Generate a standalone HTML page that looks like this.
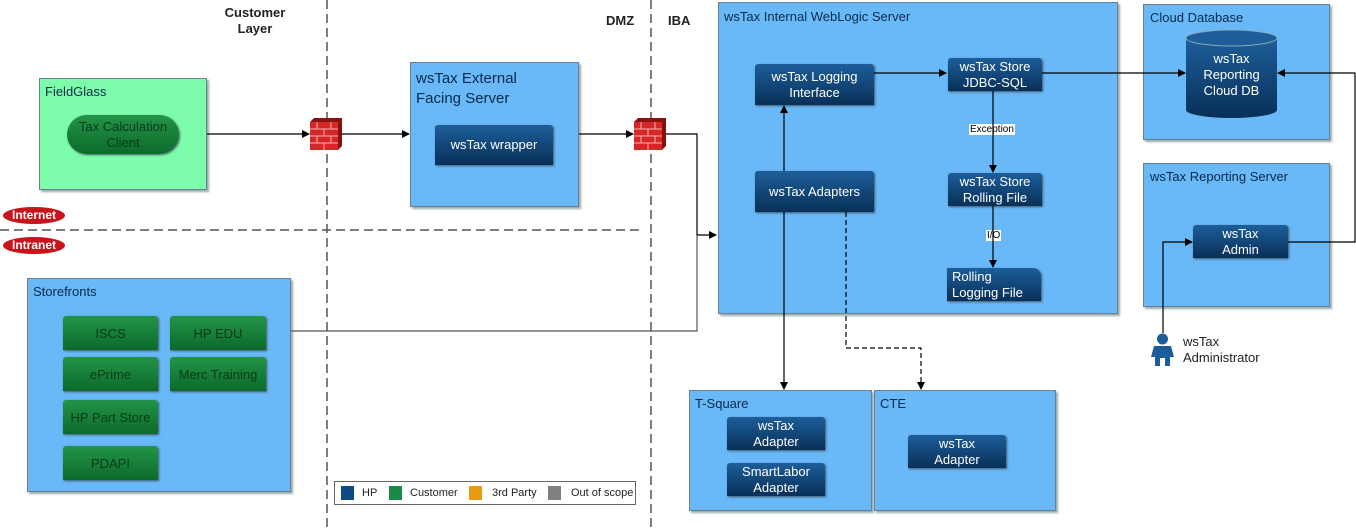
<!DOCTYPE html>
<html><head><meta charset="utf-8"><style>
body{margin:0;width:1356px;height:531px;background:#fff;position:relative;overflow:hidden;font-family:"Liberation Sans Narrow","Liberation Sans",sans-serif;}
.box{position:absolute;background:#69b8f7;border:1px solid #6a8090;box-shadow:2px 2px 2px #9aa;box-sizing:border-box;}
.t{position:absolute;font-size:13px;color:#0a2a4a;}
.n{position:absolute;background:linear-gradient(#1d5e9a,#083058);color:#fff;font-size:13px;text-align:center;display:flex;align-items:center;justify-content:center;line-height:16px;border-radius:3px 3px 0 0;box-shadow:1px 1px 2px #456;}
.g{position:absolute;background:linear-gradient(#239447,#0c6a2b);color:#0a3a1a;font-size:13px;text-align:center;display:flex;align-items:center;justify-content:center;border-radius:3px 3px 0 0;box-shadow:1px 1px 2px #456;}
svg{position:absolute;left:0;top:0}
</style></head><body>
<div class="box" style="left:39px;top:78px;width:168px;height:112px;background:#7dfdab"></div>
<div class="t" style="left:45px;top:84px">FieldGlass</div>
<div class="g" style="left:67px;top:115px;width:112px;height:39px;border-radius:20px;line-height:16px">Tax Calculation<br>Client</div>

<div class="box" style="left:410px;top:62px;width:169px;height:145px"></div>
<div class="t" style="left:416px;top:69px;font-size:15px;line-height:20px">wsTax External<br>Facing Server</div>
<div class="n" style="left:435px;top:125px;width:118px;height:40px">wsTax wrapper</div>

<div class="box" style="left:718px;top:2px;width:400px;height:312px"></div>
<div class="t" style="left:724px;top:9px">wsTax Internal WebLogic Server</div>
<div class="n" style="left:755px;top:64px;width:119px;height:41px">wsTax Logging<br>Interface</div>
<div class="n" style="left:948px;top:58px;width:94px;height:33px">wsTax Store<br>JDBC-SQL</div>
<div class="n" style="left:755px;top:171px;width:119px;height:41px">wsTax Adapters</div>
<div class="n" style="left:948px;top:173px;width:94px;height:33px">wsTax Store<br>Rolling File</div>
<div class="n" style="left:947px;top:268px;width:94px;height:33px;justify-content:flex-start;text-align:left;padding-left:5px;box-sizing:border-box;border-radius:0 8px 0 0">Rolling<br>Logging File</div>
<div class="t" style="left:969px;top:124px;font-size:10px;background:#fff;padding:0 1px;color:#000">Exception</div>
<div class="t" style="left:986px;top:230px;font-size:10px;background:#fff;padding:0 1px;color:#000">I/O</div>

<div class="box" style="left:1143px;top:4px;width:187px;height:136px"></div>
<div class="t" style="left:1150px;top:10px">Cloud Database</div>
<svg width="1356" height="531" style="pointer-events:none">
<defs><linearGradient id="cy" x1="0" x2="0" y1="0" y2="1"><stop offset="0" stop-color="#1d5e9a"/><stop offset="1" stop-color="#083058"/></linearGradient></defs>
<path d="M1186 38 v72 a45.5 8 0 0 0 91 0 v-72" fill="url(#cy)"/>
<ellipse cx="1231.5" cy="38" rx="45.5" ry="8" fill="#1d5e9a" stroke="#8ab" stroke-width="1"/>
</svg>
<div class="t" style="left:1186px;top:51px;width:91px;text-align:center;color:#fff;line-height:16px">wsTax<br>Reporting<br>Cloud DB</div>

<div class="box" style="left:1143px;top:163px;width:187px;height:144px"></div>
<div class="t" style="left:1150px;top:169px">wsTax Reporting Server</div>
<div class="n" style="left:1193px;top:225px;width:95px;height:33px">wsTax<br>Admin</div>

<div class="box" style="left:27px;top:278px;width:264px;height:214px"></div>
<div class="t" style="left:33px;top:284px">Storefronts</div>
<div class="g" style="left:63px;top:316px;width:95px;height:34px">ISCS</div>
<div class="g" style="left:170px;top:316px;width:96px;height:34px">HP EDU</div>
<div class="g" style="left:63px;top:357px;width:95px;height:34px">ePrime</div>
<div class="g" style="left:170px;top:357px;width:96px;height:34px">Merc Training</div>
<div class="g" style="left:63px;top:400px;width:95px;height:34px">HP Part Store</div>
<div class="g" style="left:63px;top:446px;width:95px;height:34px">PDAPI</div>

<div class="box" style="left:689px;top:390px;width:183px;height:121px"></div>
<div class="t" style="left:695px;top:396px">T-Square</div>
<div class="n" style="left:727px;top:417px;width:98px;height:33px">wsTax<br>Adapter</div>
<div class="n" style="left:727px;top:463px;width:98px;height:33px">SmartLabor<br>Adapter</div>
<div class="box" style="left:874px;top:390px;width:182px;height:121px"></div>
<div class="t" style="left:880px;top:396px">CTE</div>
<div class="n" style="left:908px;top:435px;width:98px;height:33px">wsTax<br>Adapter</div>

<div class="t" style="left:215px;top:5px;width:80px;text-align:center;font-weight:bold;font-size:13px;line-height:16px;color:#222">Customer<br>Layer</div>
<div class="t" style="left:606px;top:13px;font-weight:bold;color:#222">DMZ</div>
<div class="t" style="left:668px;top:13px;font-weight:bold;color:#222">IBA</div>

<div style="position:absolute;left:3px;top:207px;width:62px;height:17px;border-radius:50%;background:#c8141c;color:#fff;font-size:12px;font-weight:bold;text-align:center;line-height:17px">Internet</div>
<div style="position:absolute;left:3px;top:237px;width:62px;height:17px;border-radius:50%;background:#c8141c;color:#fff;font-size:12px;font-weight:bold;text-align:center;line-height:17px">Intranet</div>

<div style="position:absolute;left:334px;top:481px;width:302px;height:24px;border:1px solid #666;background:#fff;box-sizing:border-box;font-size:11px;color:#222">
<span style="position:absolute;left:6px;top:4px;width:13px;height:14px;background:#0d4a86"></span><span style="position:absolute;left:27px;top:5px">HP</span>
<span style="position:absolute;left:54px;top:4px;width:13px;height:14px;background:#1a8a44"></span><span style="position:absolute;left:75px;top:5px">Customer</span>
<span style="position:absolute;left:134px;top:4px;width:13px;height:14px;background:#e89a10"></span><span style="position:absolute;left:157px;top:5px">3rd Party</span>
<span style="position:absolute;left:213px;top:4px;width:13px;height:14px;background:#808080"></span><span style="position:absolute;left:236px;top:5px">Out of scope</span>
</div>

<div style="position:absolute;left:1150px;top:333px;width:25px;height:33px">
<svg width="25" height="33"><circle cx="12.5" cy="6" r="5.5" fill="#1d5e9a"/><path d="M4 13 h17 l3 11 h-4 v9 h-5 v-8 h-5 v8 h-5 v-9 h-4 z" fill="#1d5e9a"/></svg></div>
<div class="t" style="left:1183px;top:334px;color:#222;line-height:16px">wsTax<br>Administrator</div>

<svg width="1356" height="531">
<defs><marker id="a" markerWidth="8" markerHeight="8" refX="7" refY="4" orient="auto" markerUnits="userSpaceOnUse"><path d="M0 0 L8 4 L0 8 z" fill="#000"/></marker></defs>
<g stroke="#555" stroke-width="1.5" stroke-dasharray="9,5" fill="none">
<line x1="327" y1="0" x2="327" y2="531"/><line x1="651" y1="0" x2="651" y2="531"/>
<line x1="0" y1="230" x2="642" y2="230"/>
</g>
<g stroke="#000" stroke-width="1.2" fill="none">
<line x1="207" y1="134" x2="309" y2="134" marker-end="url(#a)"/>
<line x1="342" y1="134" x2="409" y2="134" marker-end="url(#a)"/>
<line x1="579" y1="134" x2="633" y2="134" marker-end="url(#a)"/>
<polyline points="665,134 697,134 697,235 716,235" marker-end="url(#a)"/>
<polyline points="291,331 697,331 697,235" stroke="#555"/>
<line x1="784" y1="171" x2="784" y2="106" marker-end="url(#a)"/>
<line x1="874" y1="73" x2="946" y2="73" marker-end="url(#a)"/>
<line x1="993" y1="91" x2="993" y2="172" marker-end="url(#a)"/>
<line x1="993" y1="206" x2="993" y2="267" marker-end="url(#a)"/>
<line x1="1042" y1="73" x2="1185" y2="73" marker-end="url(#a)"/>
<polyline points="1288,242 1355,242 1355,73 1278,73" marker-end="url(#a)"/>
<polyline points="1163,333 1163,242 1192,242" marker-end="url(#a)"/>
<line x1="784" y1="212" x2="784" y2="389" marker-end="url(#a)"/>
<polyline points="846,212 846,348 921,348 921,389" stroke-dasharray="5,3" marker-end="url(#a)"/>
</g>
<g id="fw">
<path d="M310 122 l4 -4 h28 v28 l-4 4 z" fill="#8a1010"/>
<rect x="310" y="122" width="28" height="28" fill="#d42828"/>
<g stroke="#f5b0b0" stroke-width="1"><line x1="310" y1="129" x2="338" y2="129"/><line x1="310" y1="136" x2="338" y2="136"/><line x1="310" y1="143" x2="338" y2="143"/>
<line x1="317" y1="122" x2="317" y2="129"/><line x1="331" y1="122" x2="331" y2="129"/><line x1="324" y1="129" x2="324" y2="136"/><line x1="317" y1="136" x2="317" y2="143"/><line x1="331" y1="136" x2="331" y2="143"/><line x1="324" y1="143" x2="324" y2="150"/></g>
</g>
<use href="#fw" x="324"/>
</svg>
</body></html>
